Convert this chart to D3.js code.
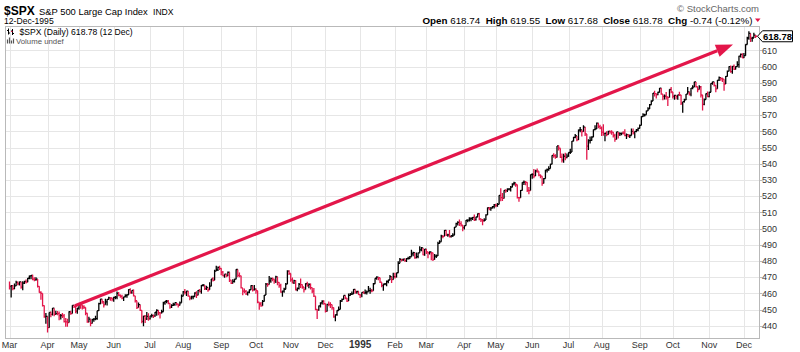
<!DOCTYPE html>
<html>
<head>
<meta charset="utf-8">
<script src="https://cdn.jsdelivr.net/npm/d3@7"></script>
<style>
  body { margin: 0; background: #fff; }
  svg text { font-family: "Liberation Sans", Arial, sans-serif; }
</style>
</head>
<body>
<svg id="chart" width="800" height="352"></svg>
<script>
// trading calendar
const startDate = "1994-03-01", endDate = "1995-12-12";
const holidays = ["1994-04-01","1994-04-27","1994-05-30","1994-07-04","1994-09-05","1994-11-24","1994-12-26",
  "1995-01-02","1995-02-20","1995-04-14","1995-05-29","1995-07-04","1995-09-04","1995-11-23"];
const prevClose = 467.1; // 28-Feb-1994

const closes = [
  464.4,464.8,463.0,464.7,466.9,465.9,467.1,463.9,466.4,467.4,467.0,469.4,470.9,471.1,468.8,468.5,468.8,464.4,460.6,460.0,452.5,445.6,445.8, // Mar 94
  438.9,448.3,447.1,450.9,447.1,447.6,447.5,446.3,446.4,446.2,442.6,442.5,442.0,448.7,447.6,452.7,451.9,449.1,450.9, // Apr
  453.0,452.9,451.7,451.4,447.8,442.3,444.1,441.5,443.8,444.1,444.5,449.4,453.7,456.5,454.9,453.0,454.8,456.3,457.3,457.2,456.5, // May
  457.6,457.7,460.1,458.9,458.2,457.1,457.9,458.7,459.1,462.4,460.6,461.9,458.5,455.5,451.3,453.1,449.6,442.8,446.0,444.3,445.8,444.3, // Jun
  446.2,446.3,446.1,448.4,449.6,448.1,448.0,448.7,454.2,455.2,455.3,453.9,451.6,452.6,453.1,454.3,453.4,452.6,454.2,458.3, // Jul
  461.0,460.6,461.5,458.4,457.1,457.9,458.0,460.3,458.9,461.9,461.2,465.0,465.2,463.0,463.7,462.3,464.5,469.0,468.1,473.8,474.6,476.1,475.5, // Aug
  473.2,470.9,471.9,470.9,473.1,468.2,466.2,467.5,468.8,474.8,471.2,470.9,463.4,461.5,461.3,459.7,460.8,462.3,464.8,462.2,462.7, // Sep
  461.7,454.6,453.5,452.4,455.1,459.0,465.8,465.5,467.8,469.1,468.9,467.7,470.3,466.9,464.9,460.8,461.5,462.6,465.8,473.8,472.4, // Oct
  468.4,466.5,467.9,462.3,463.1,465.7,465.4,464.0,462.4,466.0,465.0,465.6,463.6,461.5,458.3,450.1,449.9,452.3,454.2,455.2,453.7, // Nov
  448.9,453.3,453.2,453.1,451.2,445.5,446.9,449.5,450.2,455.3,456.3,458.8,457.1,455.3,458.8,459.6,459.7,462.5,460.9,461.2,459.3, // Dec
  459.1,460.7,460.3,460.7,461.0,461.7,461.7,461.6,466.0,469.4,470.1,469.7,467.0,464.8,465.8,465.9,467.4,468.3,470.4,468.5,470.4, // Jan 95
  470.3,472.8,478.6,481.1,480.8,481.2,480.2,481.5,481.6,482.6,484.5,485.2,482.0,482.7,485.1,486.9,488.1,483.8,487.4, // Feb
  485.7,485.1,485.6,485.1,481.0,483.1,483.2,490.9,491.9,495.4,495.3,499.0,496.1,496.2,495.1,495.7,496.0,501.0,503.2,503.9,503.1,502.2,500.7, // Mar
  501.9,505.2,505.3,506.1,506.4,507.0,505.5,507.2,509.2,506.1,505.4,504.9,505.3,508.5,512.9,512.1,512.7,513.6,514.7, // Apr
  514.3,515.0,520.5,519.2,518.7,523.6,523.5,524.4,524.6,525.6,527.7,528.2,527.1,519.2,519.1,523.7,528.6,528.7,528.6,523.7,523.5,533.4, // May
  533.5,532.5,535.6,535.5,533.1,532.4,527.9,530.9,536.1,536.5,537.1,539.8,545.2,545.0,544.0,551.1,549.7,544.1,542.4,544.7,543.9,544.8, // Jun
  547.1,547.3,554.0,556.4,557.2,554.8,560.9,561.0,559.9,562.7,558.5,551.0,554.3,554.5,556.6,561.1,561.6,565.2,563.0,562.1, // Jul
  559.6,558.8,558.9,558.0,560.0,559.7,559.6,557.5,555.1,559.7,558.6,558.7,559.0,558.9,557.5,558.1,557.1,557.5,560.1,559.1,560.0,560.9,561.9, // Aug
  563.8,569.2,570.2,570.3,572.7,573.9,576.5,578.8,583.6,583.4,582.8,584.2,586.8,583.0,581.7,581.8,581.4,581.0,585.9,584.4, // Sep
  581.7,582.3,581.5,582.6,582.5,577.5,578.4,579.5,583.1,584.5,583.0,586.8,587.4,590.6,587.6,585.9,587.5,582.5,576.7,579.7,583.3,581.5, // Oct
  584.2,589.7,590.6,588.5,586.3,591.7,593.3,592.7,592.3,589.3,594.0,597.3,600.0,596.9,600.2,598.4,600.0,601.3,606.5,607.6,605.4, // Nov
  606.8,613.7,617.7,620.5,617.5,617.7,619.52,618.78 // Dec
];
const highs = [
  467.4,465.0,465.3,466.1,467.8,467.4,467.4,467.3,467.5,467.8,468.6,469.6,471.1,471.1,471.5,470.0,470.0,468.9,464.4,461.3,460.0,452.5,447.9,
  445.8,448.3,448.9,451.0,450.9,449.4,449.1,448.8,447.4,447.9,447.3,444.9,444.4,449.0,449.4,452.8,453.1,452.9,451.0,
  453.2,453.6,453.1,452.8,451.4,447.8,445.6,444.1,444.4,444.9,446.2,449.4,454.3,456.7,456.5,455.0,456.8,456.5,458.0,457.6,457.4,
  457.9,458.5,461.2,460.9,459.3,459.2,458.0,459.5,459.6,462.6,463.2,462.0,462.4,458.5,455.5,454.4,453.1,449.6,446.2,446.7,448.6,447.8,
  446.3,447.5,447.0,448.6,450.2,449.6,448.2,449.9,454.9,455.3,455.9,455.9,453.9,453.4,454.2,454.5,454.3,453.7,455.0,459.3,
  461.5,462.8,461.6,461.5,458.4,458.6,458.8,460.8,461.3,462.1,462.8,465.3,465.9,465.2,464.7,463.7,467.0,469.0,470.0,474.7,477.1,476.6,477.1,
  475.5,473.9,471.9,472.2,473.5,473.1,468.2,468.7,469.1,474.9,474.8,473.0,470.9,463.4,463.0,462.1,461.2,462.5,465.0,464.8,465.3,
  463.1,461.7,454.6,454.7,455.9,459.1,466.4,466.5,470.8,469.9,469.8,469.1,471.0,470.3,466.9,466.0,461.8,463.6,466.4,474.4,474.3,
  472.4,469.9,468.4,468.1,463.7,466.5,469.3,465.6,464.0,466.3,467.3,466.3,466.1,463.6,463.4,458.3,450.1,452.6,454.6,455.8,455.8,
  453.7,453.6,455.0,454.6,453.1,451.3,447.0,449.7,451.9,455.9,456.9,458.8,458.8,457.2,460.0,460.3,461.2,462.7,462.5,461.6,461.3,
  459.3,460.7,461.3,462.5,461.9,464.6,463.6,462.7,466.4,469.4,470.6,470.1,469.7,467.0,466.1,466.4,468.0,468.5,471.4,470.4,472.8,
  472.8,472.8,479.9,481.9,481.3,481.6,481.6,481.9,482.7,483.2,487.0,485.7,485.2,485.3,485.3,489.2,488.7,488.1,487.5,
  487.4,485.7,486.0,485.6,485.1,484.3,484.1,491.9,492.9,496.2,496.0,499.2,499.1,496.9,499.2,495.9,497.1,501.1,503.7,504.6,505.6,504.6,502.2,
  501.9,505.3,505.6,507.0,507.1,507.2,508.8,507.3,509.4,509.6,506.2,505.9,506.4,508.9,513.0,513.4,513.4,514.0,515.2,
  515.4,515.9,520.6,525.0,522.0,523.7,524.4,524.9,525.0,526.3,528.0,528.9,528.2,527.1,519.5,523.8,528.6,529.8,529.4,528.6,525.7,533.4,
  534.2,536.9,536.3,537.1,535.5,533.5,532.4,531.3,536.4,537.2,538.5,540.1,545.3,546.5,545.9,551.1,551.4,549.7,546.4,546.3,546.8,546.4,
  547.1,549.4,554.1,556.8,558.5,557.2,561.2,562.7,561.0,563.8,562.7,558.5,555.2,556.9,557.0,561.2,563.8,565.6,565.2,564.1,
  563.1,564.4,559.2,560.1,560.5,560.6,560.8,559.7,558.6,559.9,559.7,559.5,559.4,560.2,561.3,558.7,558.5,558.1,561.8,561.9,560.2,561.5,562.4,
  564.3,569.4,571.2,570.9,572.9,575.0,577.0,579.3,583.8,585.1,583.4,584.5,586.9,586.8,583.0,582.9,584.3,581.4,586.0,587.5,
  584.4,582.6,582.3,582.6,584.5,582.5,578.4,580.2,583.1,587.4,584.5,586.9,588.6,590.7,590.6,587.6,588.6,588.0,582.5,580.4,583.5,584.6,
  584.5,589.7,590.9,590.6,588.5,591.8,594.0,593.3,593.2,592.3,594.2,597.6,600.2,600.8,600.4,601.4,600.3,603.3,606.8,608.2,608.3,
  608.4,613.9,618.5,621.8,620.5,618.5,620.9,619.55
];
const lows = [
  462.5,457.5,462.0,462.6,464.6,465.0,464.9,462.9,462.0,465.9,466.1,467.0,468.7,468.8,468.1,467.6,467.9,463.7,460.4,456.1,452.0,445.0,441.3,
  435.9,438.9,445.3,446.4,446.0,446.9,446.5,443.5,443.9,444.9,442.1,439.5,439.4,442.0,446.8,447.6,451.0,447.8,447.5,
  449.9,450.6,450.1,450.4,446.6,441.9,442.3,439.8,441.4,442.5,443.5,443.7,449.1,453.4,453.7,451.3,453.0,452.5,456.1,455.5,455.2,
  454.9,456.5,456.4,458.3,457.3,456.5,455.3,457.6,457.4,459.1,459.8,459.9,458.2,454.4,450.4,451.3,449.1,441.6,439.8,441.7,443.6,443.2,
  443.9,445.1,444.9,445.6,446.3,446.6,444.6,447.7,448.7,453.0,453.9,453.4,450.5,451.0,452.3,452.4,452.5,451.4,452.6,454.2,
  458.3,459.3,458.5,458.0,455.8,456.3,456.4,457.9,457.2,458.9,460.6,459.9,464.3,462.2,462.2,461.1,462.3,464.5,467.4,468.1,473.8,473.8,474.5,
  471.2,470.7,469.7,470.0,470.7,467.1,465.8,466.1,466.7,468.8,470.0,470.0,463.0,458.9,460.2,459.0,458.7,460.1,462.3,461.2,461.9,
  459.8,454.0,449.9,451.8,452.4,455.1,459.0,464.2,465.5,466.6,467.6,466.0,466.4,465.0,463.6,460.4,457.9,460.4,462.6,465.8,471.4,
  467.3,466.1,465.9,461.8,461.3,462.4,463.4,462.9,460.6,462.4,464.1,463.2,462.4,460.1,457.8,449.6,444.2,449.3,451.4,453.2,453.1,
  448.3,448.9,452.1,451.0,450.0,445.0,442.9,446.2,449.3,450.2,454.9,456.3,456.4,454.8,455.3,458.6,459.1,459.7,459.9,459.9,459.0,
  457.2,457.6,459.8,459.5,459.4,461.0,459.8,460.8,461.6,466.0,468.4,468.2,466.4,463.8,461.6,465.0,464.4,466.3,468.3,466.5,468.5,
  469.3,469.9,472.8,478.6,479.7,480.1,479.6,479.4,480.9,481.2,482.6,483.0,481.4,481.8,481.7,485.1,486.1,483.6,483.3,
  484.3,481.7,484.1,480.5,480.1,480.8,481.9,483.2,490.7,491.9,494.1,495.3,495.5,495.0,494.6,494.5,494.9,496.0,501.0,502.0,501.6,501.4,498.4,
  499.5,501.9,504.0,504.5,504.6,505.4,504.8,505.0,507.2,505.2,504.1,502.1,504.4,505.3,508.5,511.3,511.0,512.6,512.5,
  513.2,513.5,515.0,517.0,517.1,518.7,522.2,522.6,523.6,523.0,525.6,526.7,525.9,518.6,516.6,519.1,523.6,527.0,526.8,522.6,521.3,523.5,
  530.8,531.2,532.5,534.5,532.4,531.2,526.5,527.9,530.9,534.6,535.7,537.1,539.8,543.8,543.1,544.0,548.3,543.6,540.8,540.7,542.2,543.5,
  544.4,546.1,547.3,553.9,555.8,554.0,554.8,559.5,556.9,559.9,557.2,542.5,548.6,552.6,554.2,556.6,560.8,561.6,562.0,561.3,
  557.2,557.3,553.9,557.1,557.9,558.6,557.9,556.3,553.6,555.1,555.6,557.2,557.6,558.1,557.1,555.4,556.5,556.0,557.5,558.1,555.8,559.5,560.2,
  561.9,563.8,569.0,569.2,570.3,572.7,573.9,576.5,578.8,581.6,580.4,582.3,584.2,582.6,579.2,579.8,579.8,575.8,581.0,583.6,
  580.3,579.6,579.9,579.6,581.9,576.3,571.6,577.9,579.5,583.1,582.2,581.8,586.0,587.4,587.2,584.2,585.9,581.0,573.0,576.2,579.7,581.2,
  581.2,584.2,588.9,587.8,584.2,586.3,591.1,591.3,590.6,585.1,589.3,593.9,597.2,596.2,595.6,598.0,598.2,600.0,599.4,605.6,605.3,
  605.4,606.8,613.7,616.6,615.2,615.4,617.7,617.68
];

const monthLabels = ["Mar","Apr","May","Jun","Jul","Aug","Sep","Oct","Nov","Dec","1995",
  "Feb","Mar","Apr","May","Jun","Jul","Aug","Sep","Oct","Nov","Dec"];
const yTicks = [440,450,460,470,480,490,500,510,520,530,540,550,560,570,580,590,600,610];
// trend arrow: [trading-day index, price]
const arrowFrom = [39.6, 452.4], arrowTo = [437.4, 613.7];

const RED = "#e3164a", GRID = "#e6e6e6", FRAME = "#b9b9b9";
const W = 800, H = 352;
const plot = {left: 5.5, right: 759.5, top: 26.5, bottom: 338.5};

const parse = d3.utcParse("%Y-%m-%d"), fmt = d3.utcFormat("%Y-%m-%d");
const dates = d3.utcDays(parse(startDate), d3.utcDay.offset(parse(endDate), 1))
  .filter(d => d.getUTCDay() % 6 !== 0 && !holidays.includes(fmt(d)));
if (dates.length !== closes.length) console.warn("length mismatch", dates.length, closes.length);

const n = closes.length;
const x = d3.scaleLinear().domain([0, n - 1]).range([9.5, 755.5]);
const y = d3.scaleLinear().domain([432.2, 624.8]).range([plot.bottom, plot.top]);

const monthStarts = d3.range(n).filter(i => i === 0 || dates[i].getUTCMonth() !== dates[i - 1].getUTCMonth());

const svg = d3.select("#chart");
svg.append("rect").attr("width", W).attr("height", H).attr("fill", "#fff");

// grid
const grid = svg.append("g");
grid.selectAll("line.h").data(yTicks).join("line")
  .attr("x1", plot.left).attr("x2", plot.right)
  .attr("y1", d => Math.round(y(d)) + 0.5).attr("y2", d => Math.round(y(d)) + 0.5)
  .attr("stroke", GRID);
grid.selectAll("line.v").data(monthStarts).join("line")
  .attr("x1", i => Math.round(x(i)) + 0.5).attr("x2", i => Math.round(x(i)) + 0.5)
  .attr("y1", plot.top).attr("y2", plot.bottom)
  .attr("stroke", GRID);

// frame
svg.append("rect")
  .attr("x", plot.left).attr("y", plot.top)
  .attr("width", plot.right - plot.left).attr("height", plot.bottom - plot.top)
  .attr("fill", "none").attr("stroke", FRAME);

// price bars
svg.append("clipPath").attr("id", "clip").append("rect")
  .attr("x", plot.left).attr("y", plot.top)
  .attr("width", plot.right - plot.left).attr("height", plot.bottom - plot.top);
svg.append("g").attr("clip-path", "url(#clip)")
  .selectAll("path").data(d3.range(n)).join("path")
  .attr("d", i => `M${x(i)},${y(highs[i])}V${y(lows[i])}M${x(i)},${y(closes[i])}h1.8`)
  .attr("fill", "none")
  .attr("stroke-width", 1.3)
  .attr("stroke", i => closes[i] < (i ? closes[i - 1] : prevClose) ? RED : "#000");

// trend arrow
{
  const x0 = x(arrowFrom[0]), y0 = y(arrowFrom[1]), x1 = x(arrowTo[0]), y1 = y(arrowTo[1]);
  const a = Math.atan2(y1 - y0, x1 - x0), len = 17, hw = 6.5;
  const bx = x1 - len * Math.cos(a), by = y1 - len * Math.sin(a);
  svg.append("line").attr("x1", x0).attr("y1", y0).attr("x2", bx).attr("y2", by)
    .attr("stroke", RED).attr("stroke-width", 3.2);
  svg.append("path")
    .attr("d", `M${x1},${y1}L${bx + hw * Math.sin(a)},${by - hw * Math.cos(a)}L${bx - hw * Math.sin(a)},${by + hw * Math.cos(a)}Z`)
    .attr("fill", RED);
}

// y axis labels
const yAxis = svg.append("g");
yAxis.selectAll("line").data(yTicks).join("line")
  .attr("x1", plot.right).attr("x2", plot.right + 3)
  .attr("y1", d => Math.round(y(d)) + 0.5).attr("y2", d => Math.round(y(d)) + 0.5)
  .attr("stroke", FRAME);
yAxis.selectAll("text").data(yTicks).join("text")
  .attr("x", plot.right + 2.5).attr("y", d => y(d) + 3.2)
  .attr("font-size", 9).attr("fill", "#333").text(d => d);

// last price tag
{
  const cy = y(closes[n - 1]);
  svg.append("path")
    .attr("d", `M757.5,${cy}L762.5,${cy - 5.5}H792.5V${cy + 5.5}H762.5Z`)
    .attr("fill", "#fff").attr("stroke", "#000");
  svg.append("text").attr("x", 777.5).attr("y", cy + 3.4).attr("text-anchor", "middle")
    .attr("font-size", 9.5).attr("font-weight", "bold").text(d3.format(".2f")(closes[n - 1]));
}

// x axis labels
svg.append("g").selectAll("text").data(monthStarts).join("text")
  .attr("x", i => x(i)).attr("y", 348)
  .attr("text-anchor", "middle").attr("fill", "#333")
  .attr("font-weight", (d, k) => monthLabels[k] === "1995" ? "bold" : null)
  .attr("font-size", (d, k) => monthLabels[k] === "1995" ? 10 : 9)
  .text((d, k) => monthLabels[k]);

// header
const head = svg.append("g");
head.append("text").attr("x", 4).attr("y", 14.5).attr("font-size", 12).attr("font-weight", "bold").text("$SPX");
head.append("text").attr("x", 39).attr("y", 14.5).attr("font-size", 9.4).text("S&P 500 Large Cap Index");
head.append("text").attr("x", 153).attr("y", 14.5).attr("font-size", 8.6).text("INDX");
head.append("text").attr("x", 4).attr("y", 24).attr("font-size", 8.6).text("12-Dec-1995");
head.append("text").attr("x", 759).attr("y", 11.5).attr("text-anchor", "end")
  .attr("font-size", 9.5).attr("fill", "#666").text("\u00a9 StockCharts.com");

const quote = head.append("text").attr("x", 752.5).attr("y", 23.5).attr("text-anchor", "end")
  .attr("font-size", 9.8).attr("xml:space", "preserve");
[["Open ", true], ["618.74  ", false], ["High ", true], ["619.55  ", false], ["Low ", true],
 ["617.68  ", false], ["Close ", true], ["618.78  ", false], ["Chg ", true], ["-0.74 (-0.12%)", false]]
  .forEach(([t, b]) => quote.append("tspan").attr("font-weight", b ? "bold" : null).text(t));
head.append("path").attr("d", "M755,18.5h5.5l-2.75,3.5Z").attr("fill", RED);

// legend
const leg = svg.append("g");
leg.append("path").attr("d", "M8.5,28.5v6M7,30.5h1.5M8.5,33h1.5M12.5,29v6M11,31h1.5M12.5,33.5h1.5")
  .attr("stroke", "#000").attr("stroke-width", 1).attr("fill", "none");
leg.append("path").attr("d", "M11,31.5h1.5").attr("stroke", RED);
leg.append("text").attr("x", 19.5).attr("y", 34.5)
  .attr("font-family", "'DejaVu Sans Mono', monospace").attr("font-size", 8.6)
  .text("$SPX (Daily) 618.78 (12 Dec)");
leg.append("path").attr("d", "M7.5,43.5v-4M9.5,43.5v-6M11.5,43.5v-3M13.5,43.5v-5")
  .attr("stroke", "#555").attr("stroke-width", 1.2);
leg.append("text").attr("x", 16).attr("y", 43.5).attr("font-size", 7.8).attr("fill", "#555").text("Volume undef");
</script>
</body>
</html>
